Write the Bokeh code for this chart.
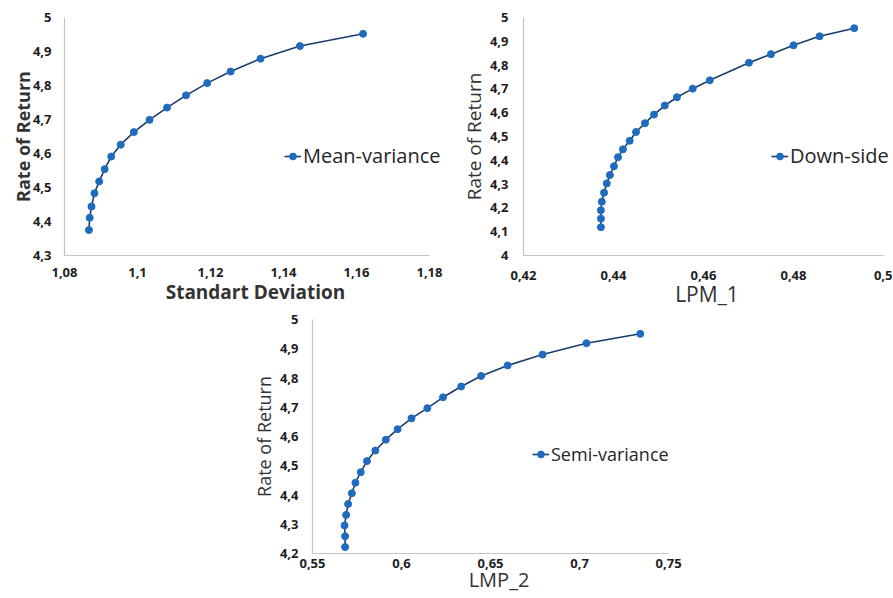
from bokeh.plotting import figure
from bokeh.models import (Legend, LegendItem, FixedTicker, CustomJSTickFormatter,
                          Range1d, Spacer)
from bokeh.layouts import column, row
from bokeh.embed import file_html
from bokeh.resources import INLINE

# ---------------- data ----------------
mv_sd = [1.0867, 1.0869, 1.0874, 1.0882, 1.0895, 1.0910, 1.0928, 1.0954, 1.0990,
         1.1033, 1.1081, 1.1133, 1.1191, 1.1255, 1.1337, 1.1445, 1.1618]
mv_ret = [4.375, 4.411, 4.444, 4.483, 4.518, 4.554, 4.591, 4.626, 4.663,
          4.699, 4.735, 4.771, 4.807, 4.841, 4.879, 4.916, 4.952]

ds_lpm1 = [0.4372, 0.4372, 0.4372, 0.4374, 0.4379, 0.4385, 0.4392, 0.4401, 0.4410,
           0.4421, 0.4436, 0.4450, 0.4470, 0.4490, 0.4514, 0.4541, 0.4576, 0.4614,
           0.4701, 0.4750, 0.4800, 0.4858, 0.4935]
ds_ret = [4.119, 4.155, 4.190, 4.226, 4.264, 4.303, 4.338, 4.375, 4.413,
          4.446, 4.482, 4.519, 4.556, 4.592, 4.630, 4.665, 4.701, 4.736,
          4.810, 4.846, 4.883, 4.921, 4.955]

sv_lmp2 = [0.5683, 0.5683, 0.5680, 0.5689, 0.5700, 0.5721, 0.5741, 0.5771, 0.5806,
           0.5853, 0.5912, 0.5978, 0.6056, 0.6145, 0.6233, 0.6335, 0.6447, 0.6596,
           0.6792, 0.7039, 0.7341]
sv_ret = [4.222, 4.259, 4.296, 4.332, 4.369, 4.406, 4.442, 4.478, 4.516,
          4.552, 4.589, 4.625, 4.662, 4.697, 4.734, 4.771, 4.807, 4.843,
          4.880, 4.919, 4.951]

x1_ticks = [1.08, 1.10, 1.12, 1.14, 1.16, 1.18]
y1_ticks = [4.3, 4.4, 4.5, 4.6, 4.7, 4.8, 4.9, 5.0]
x2_ticks = [0.42, 0.44, 0.46, 0.48, 0.50]
y2_ticks = [4.0, 4.1, 4.2, 4.3, 4.4, 4.5, 4.6, 4.7, 4.8, 4.9, 5.0]
x3_ticks = [0.55, 0.60, 0.65, 0.70, 0.75]
y3_ticks = [4.2, 4.3, 4.4, 4.5, 4.6, 4.7, 4.8, 4.9, 5.0]

labels = ["Mean-variance", "Down-side", "Semi-variance"]
x_titles = ["Standart Deviation", "LPM_1", "LMP_2"]
y_title = "Rate of Return"

# ---------------- style ----------------
FONT = "Open Sans"
LINE_COL = "#1b3d6b"
MARK_COL = "#1f6cbf"
AXIS_COL = "#c4c4c4"
TICK_COL = "#1e1e1e"
TITLE_COL = "#333333"

fmt = CustomJSTickFormatter(code="return parseFloat(tick.toFixed(4)).toString().replace('.', ',');")


def make(xs, ys, label, xtitle, xticks, yticks, w, h, bl, bt, bb, frame_h,
         axis_px, frame_w, ytitle_style, xtitle_style, ytitle_size, xtitle_size,
         legend_size, leg_loc, ylab_standoff, xlab_standoff, ytitle_standoff,
         xtitle_standoff):
    # frame is a bit wider than the drawn x axis so the legend text is not clipped
    span = xticks[-1] - xticks[0]
    x_end = xticks[-1] + (frame_w - axis_px) / axis_px * span
    br = w - bl - frame_w
    p = figure(width=w, height=h, output_backend="svg", toolbar_location=None,
               x_range=Range1d(xticks[0], x_end),
               y_range=Range1d(yticks[0], yticks[-1]),
               min_border_left=bl, min_border_top=bt, min_border_right=br,
               min_border_bottom=bb)
    p.outline_line_color = None
    p.grid.visible = False
    p.background_fill_color = "white"
    p.border_fill_color = "white"

    lr = p.line(xs, ys, line_color=LINE_COL, line_width=1.6)
    sr = p.scatter(xs, ys, size=7, fill_color=MARK_COL, line_color=MARK_COL)

    for ax, ticks in ((p.xaxis[0], xticks), (p.yaxis[0], yticks)):
        ax.ticker = FixedTicker(ticks=ticks)
        ax.formatter = fmt
        ax.axis_line_color = AXIS_COL
        ax.axis_line_width = 1.2
        ax.major_tick_line_color = None
        ax.minor_tick_line_color = None
        ax.major_tick_out = 0
        ax.major_tick_in = 0
        ax.minor_tick_out = 0
        ax.minor_tick_in = 0
        ax.major_label_text_font = FONT
        ax.major_label_text_font_style = "bold"
        ax.major_label_text_font_size = "13px"
        ax.major_label_text_color = TICK_COL
        ax.axis_label_text_font = FONT
        ax.axis_label_text_color = TITLE_COL
    p.xaxis[0].bounds = (xticks[0], xticks[-1])

    p.yaxis[0].major_label_standoff = ylab_standoff
    p.xaxis[0].major_label_standoff = xlab_standoff
    p.yaxis[0].axis_label = y_title
    p.yaxis[0].axis_label_text_font_style = ytitle_style
    p.yaxis[0].axis_label_text_font_size = ytitle_size
    p.yaxis[0].axis_label_standoff = ytitle_standoff
    p.xaxis[0].axis_label = xtitle
    p.xaxis[0].axis_label_text_font_style = xtitle_style
    p.xaxis[0].axis_label_text_font_size = xtitle_size
    p.xaxis[0].axis_label_standoff = xtitle_standoff

    leg = Legend(items=[LegendItem(label=label, renderers=[lr, sr])],
                 location=leg_loc, padding=0, margin=0, spacing=0,
                 glyph_width=17, glyph_height=20, label_height=20,
                 label_standoff=2, border_line_color=None,
                 background_fill_alpha=0,
                 label_text_font=FONT, label_text_font_size=legend_size,
                 label_text_color="#262626")
    p.add_layout(leg)
    return p


# top-left: frame 64..446, axis drawn 365 px, frame height 238
p1 = make(mv_sd, mv_ret, labels[0], x_titles[0], x1_ticks, y1_ticks,
          448, 310, 64, 17, 55, 238, 365, 382,
          "bold", "bold", "18px", "19px", "20px",
          (220, 86), 13, 12, -5, -1)
# top-right: frame 523..890, axis drawn 360 px, frame height 239
p2 = make(ds_lpm1, ds_ret, labels[1], x_titles[1], x2_ticks, y2_ticks,
          444, 310, 75, 17, 54, 239, 360, 367,
          "normal", "normal", "19px", "21px", "20px",
          (248, 86), 15, 15, 0, -3)
# bottom: frame 310..685, axis drawn 358 px, frame height 234
p3 = make(sv_lmp2, sv_ret, labels[2], x_titles[2], x3_ticks, y3_ticks,
          452, 285, 62, 9, 42, 234, 358, 375,
          "normal", "normal", "18px", "20px", "18px",
          (220, 87), 14, 5, 1, -5)

layout = column(row(p1, p2), row(Spacer(width=248, height=285), p3))

with open("out.html", "w") as f:
    f.write(file_html(layout, INLINE))
